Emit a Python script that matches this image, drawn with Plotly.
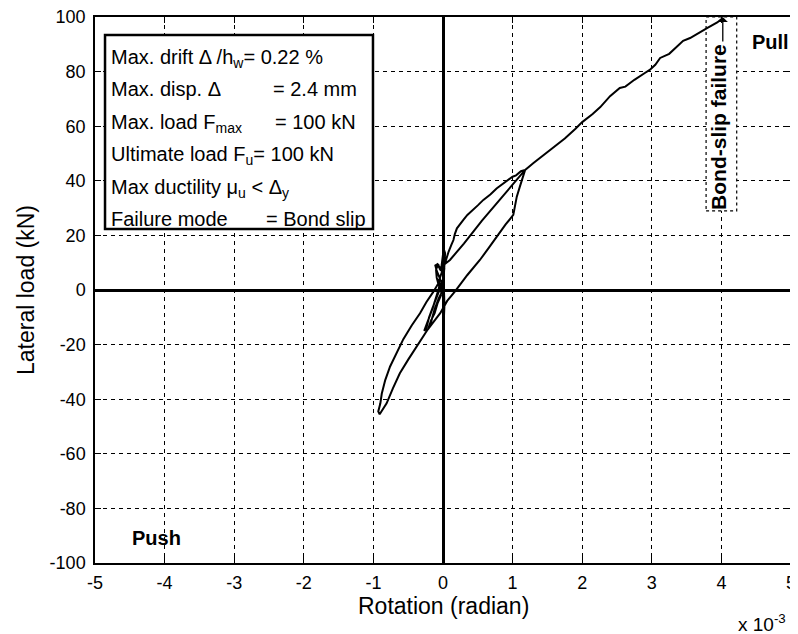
import plotly.graph_objects as go

# ---------------- data (rotation in units of 1e-3 rad, load in kN) ----------------
rotation_e3 = [
    # initial small cycles near origin
    0.00, 0.01, 0.02, 0.03, 0.01, -0.01, -0.03, -0.08, -0.11, -0.09, -0.04, -0.06,
    -0.10, -0.14, -0.19, -0.23, -0.27, -0.24, -0.20, -0.15, -0.10, -0.05, 0.00, 0.02,
    0.00, -0.03, -0.08, -0.12, -0.17, -0.21, -0.18, -0.12, -0.06, 0.00, 0.02, 0.01,
    0.02, 0.01,
    # push loading
    -0.04, -0.14, -0.24, -0.33, -0.45, -0.57, -0.66, -0.76, -0.83, -0.86, -0.88, -0.90,
    -0.93, -0.91,
    # reloading towards pull
    -0.86, -0.81, -0.72, -0.62, -0.50, -0.38, -0.22, -0.10, -0.04, 0.06, 0.17, 0.35,
    0.53, 0.66, 0.77, 0.90, 1.01, 1.04, 1.06, 1.10, 1.13, 1.16, 1.18,
    # unloading
    1.12, 1.05, 1.00, 0.90, 0.77, 0.68, 0.58, 0.50, 0.43, 0.35, 0.29, 0.20, 0.17, 0.15,
    0.12, 0.08, 0.03, -0.02, -0.07, -0.09, -0.10, -0.07,
    # final pull loading
    -0.05, 0.10, 0.30, 0.56, 0.80, 1.00, 1.10, 1.18,
    1.30, 1.45, 1.60, 1.75, 1.90, 2.00, 2.15, 2.26, 2.40, 2.54, 2.62, 2.75, 2.90, 2.97,
    3.05, 3.12, 3.25, 3.35, 3.45, 3.55, 3.69, 3.80, 3.94, 4.02,
]
lateral_load = [
    0.0, 4.0, 9.0, 13.5, 15.0, 11.0, 7.0, 9.5, 9.0, 7.0, 4.0, 0.5,
    -3.0, -6.0, -9.5, -12.5, -15.0, -14.0, -10.0, -6.5, -3.5, 0.0, 4.0, 8.0,
    2.0, -2.0, -5.0, -8.5, -11.0, -14.0, -12.5, -7.0, -3.0, 0.0, -6.0, -12.0,
    -5.0, 3.0,
    3.6, -0.7, -4.5, -8.5, -13.0, -18.0, -23.0, -28.0, -33.0, -36.0, -38.0, -41.5,
    -44.5, -45.5,
    -43.5, -41.5, -36.0, -30.5, -25.5, -20.8, -14.5, -10.5, -8.5, -4.0, -0.6, 5.5,
    11.0, 15.5, 19.5, 24.0, 27.5, 31.0, 34.2, 37.5, 40.3, 42.5, 44.0,
    43.5, 42.0, 41.5, 39.5, 37.2, 35.0, 33.0, 31.0, 29.3, 27.5, 25.6, 22.6, 20.5, 18.3,
    16.5, 14.0, 9.9, 6.2, 2.6, 4.5, 7.5, 9.5,
    8.0, 11.0, 17.0, 25.4, 32.6, 38.6, 41.5, 44.0,
    46.5, 49.5, 52.5, 55.5, 59.0, 61.5, 64.5, 67.0, 71.0, 74.0, 74.5, 77.0, 79.5, 80.6,
    82.5, 85.0, 86.5, 89.0, 91.3, 92.3, 94.5, 96.0, 98.0, 99.6,
]

x_ticks = [-5, -4, -3, -2, -1, 0, 1, 2, 3, 4, 5]
y_ticks = [-100, -80, -60, -40, -20, 0, 20, 40, 60, 80, 100]

info_left = [
    "Max. drift \u0394 /h<sub>w</sub>= 0.22 %",
    "Max. disp. \u0394",
    "Max. load F<sub>max</sub>",
    "Ultimate load F<sub>u</sub>= 100 kN",
    "Max ductility \u03bc<sub>u</sub> &lt; \u0394<sub>y</sub>",
    "Failure mode",
]
info_right = ["", "= 2.4 mm", "= 100 kN", "", "", "= Bond slip"]

FONT = "Liberation Sans, Arial, Helvetica, sans-serif"

fig = go.Figure()
fig.add_trace(go.Scatter(
    x=rotation_e3, y=lateral_load, mode="lines",
    line=dict(color="black", width=2), showlegend=False, hoverinfo="skip",
))

axis_common = dict(
    showgrid=True, gridcolor="black", gridwidth=1, griddash="4px,4px",
    zeroline=True, zerolinecolor="black", zerolinewidth=2.5,
    showline=True, linecolor="black", linewidth=1.5, mirror="ticks",
    ticks="inside", ticklen=6, tickwidth=1, tickcolor="black",
    tickfont=dict(family=FONT, size=18, color="black"),
    ticklabeloverflow="allow",
    automargin=False,
)

fig.update_xaxes(range=[-5, 5], tickvals=x_ticks, ticktext=[str(v) for v in x_ticks],
                 ticklabelstandoff=3, **axis_common)
fig.update_yaxes(range=[-100, 100], tickvals=y_ticks, ticktext=[str(v) for v in y_ticks],
                 ticklabelstandoff=4, **axis_common)

annotations = []
# info box lines
line_tops = [90.2, 78.3, 66.4, 54.5, 42.6, 30.7]
right_x = [None, -2.478, -2.443, None, None, -2.565]
for txt, rtxt, yt, rx in zip(info_left, info_right, line_tops, right_x):
    annotations.append(dict(x=-4.80, y=yt, xref="x", yref="y", text=txt, showarrow=False,
                            xanchor="left", yanchor="top",
                            font=dict(family=FONT, size=20, color="black")))
    if rtxt:
        annotations.append(dict(x=rx, y=yt, xref="x", yref="y", text=rtxt, showarrow=False,
                                xanchor="left", yanchor="top",
                                font=dict(family=FONT, size=20, color="black")))

annotations += [
    dict(x=4.70, y=90.8, xref="x", yref="y", text="<b>Pull</b>", showarrow=False,
         font=dict(family=FONT, size=20, color="black")),
    dict(x=-4.12, y=-90.8, xref="x", yref="y", text="<b>Push</b>", showarrow=False,
         font=dict(family=FONT, size=20, color="black")),
    dict(x=3.95, y=59.7, xref="x", yref="y", text="<b>Bond-slip failure</b>", showarrow=False,
         textangle=-90, font=dict(family=FONT, size=21, color="black")),
    dict(x=4.02, y=100, xref="x", yref="y", ax=4.02, ay=90.5, axref="x", ayref="y",
         text="", showarrow=True, arrowhead=1, arrowsize=1.3, arrowwidth=1.3, arrowcolor="black"),
    dict(x=0.5, y=-0.078, xref="paper", yref="paper", text="Rotation (radian)", showarrow=False,
         xanchor="center", yanchor="middle", font=dict(family=FONT, size=23, color="black")),
    dict(x=-0.0991, y=0.5, xref="paper", yref="paper", text="Lateral load (kN)", showarrow=False,
         textangle=-90, xanchor="center", yanchor="middle",
         font=dict(family=FONT, size=23, color="black")),
    dict(x=0.921, y=-0.136, xref="paper", yref="paper", text="x 10<sup>-3</sup>", showarrow=False,
         xanchor="left", yanchor="bottom", font=dict(family=FONT, size=19, color="black")),
]

shapes = [
    dict(type="rect", xref="x", yref="y", x0=-4.856, x1=-1.006, y0=22.3, y1=93.4,
         line=dict(color="black", width=2.5), fillcolor="white", layer="between"),
    dict(type="rect", xref="x", yref="y", x0=3.78, x1=4.22, y0=29.0, y1=100.0,
         line=dict(color="black", width=1.2, dash="dot"), fillcolor="white", layer="between"),
]

# the page body adds an 8px offset, so the figure is 8px smaller and margins compensate
fig.update_layout(
    width=790, height=626,
    margin=dict(l=87, r=7, t=9, b=71, autoexpand=False),
    paper_bgcolor="white", plot_bgcolor="white",
    annotations=annotations, shapes=shapes,
    font=dict(family=FONT, color="black"),
    showlegend=False,
)

fig.write_html("out.html")
